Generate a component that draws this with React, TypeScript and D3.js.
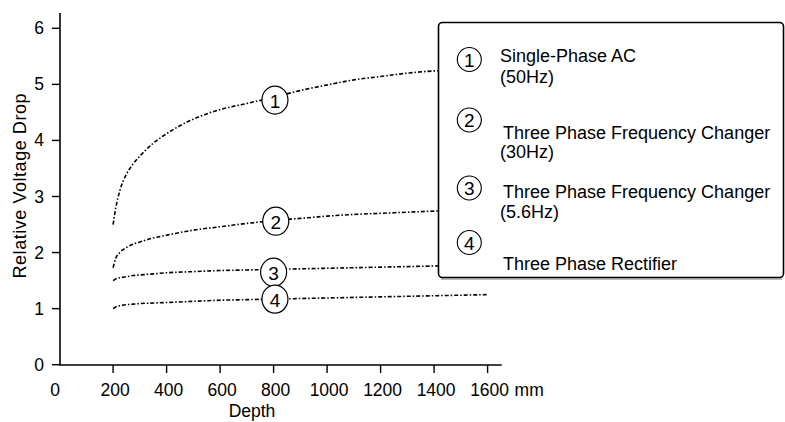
import React from "react";
import * as d3 from "d3";

const depths = [200, 210, 225, 250, 275, 300, 350, 400, 500, 600, 700, 800, 900, 1000, 1100, 1200, 1300, 1400, 1500, 1600];
const singlePhaseAC = [2.5, 2.8, 3.1, 3.4, 3.58, 3.72, 3.95, 4.12, 4.38, 4.55, 4.66, 4.77, 4.89, 4.99, 5.08, 5.14, 5.2, 5.24, 5.27, 5.3];
const freqChanger30 = [1.73, 1.9, 2.0, 2.09, 2.15, 2.19, 2.26, 2.31, 2.4, 2.46, 2.52, 2.57, 2.61, 2.65, 2.68, 2.7, 2.72, 2.74, 2.76, 2.77];
const freqChanger56 = [1.5, 1.53, 1.55, 1.57, 1.59, 1.6, 1.62, 1.64, 1.66, 1.68, 1.69, 1.7, 1.71, 1.72, 1.73, 1.74, 1.75, 1.76, 1.77, 1.78];
const rectifier = [1.0, 1.03, 1.05, 1.07, 1.08, 1.09, 1.1, 1.11, 1.13, 1.15, 1.16, 1.17, 1.18, 1.19, 1.2, 1.21, 1.22, 1.23, 1.24, 1.25];

const seriesNumbers = ["1", "2", "3", "4"];
const labelDepths = [805, 808, 800, 805];
const labelValues = [4.72, 2.56, 1.65, 1.17];

const xTicks = [0, 200, 400, 600, 800, 1000, 1200, 1400, 1600];
const yTicks = [0, 1, 2, 3, 4, 5, 6];
const xUnit = "mm";
const xTitle = "Depth";
const yTitle = "Relative Voltage Drop";

const legendText = [
  ["Single-Phase AC", "(50Hz)"],
  ["Three Phase Frequency Changer", "(30Hz)"],
  ["Three Phase Frequency Changer", "(5.6Hz)"],
  ["", "Three Phase Rectifier"],
];

const FONT = "'Liberation Sans', Arial, Helvetica, sans-serif";

export default function App() {
  const W = 785;
  const H = 422;
  const x = d3.scaleLinear().domain([0, 1600]).range([59.6, 487.6]);
  const y = d3.scaleLinear().domain([0, 6]).range([364.7, 28.3]);
  const allSeries = [singlePhaseAC, freqChanger30, freqChanger56, rectifier];
  const line = d3
    .line<number>()
    .x((_, i) => x(depths[i]))
    .y((d) => y(d))
    .curve(d3.curveMonotoneX);

  const legendCircleY = [59.5, 120, 188, 242.5];
  const legendBaselines = [
    [61.5, 82.5],
    [139, 158],
    [197.5, 217.5],
    [0, 269.5],
  ];
  const legendX = [500, 503, 503, 503];

  return (
    <svg
      width={W}
      height={H}
      style={{ position: "absolute", left: 0, top: 0, background: "#fff" }}
      fontFamily={FONT}
    >
      <rect x={0} y={0} width={W} height={H} fill="#fff" />
      {allSeries.map((s, i) => (
        <path
          key={i}
          d={line(s) || ""}
          fill="none"
          stroke="#000"
          strokeWidth={1.6}
          strokeDasharray="4 2 1.5 2"
        />
      ))}
      {allSeries.map((_, i) => (
        <g key={"lab" + i} transform={`translate(${x(labelDepths[i])},${y(labelValues[i])})`}>
          <ellipse rx={13} ry={14} fill="#fff" stroke="#000" strokeWidth={1.2} />
          <text textAnchor="middle" y={7.5} fontSize={19} fill="#000">
            {seriesNumbers[i]}
          </text>
        </g>
      ))}
      <line x1={60} y1={13} x2={60} y2={365} stroke="#000" strokeWidth={1.6} />
      <line x1={59.2} y1={365} x2={501.7} y2={365} stroke="#000" strokeWidth={1.6} />
      {yTicks.map((t) => (
        <g key={"y" + t}>
          <line x1={52} x2={60} y1={y(t)} y2={y(t)} stroke="#000" strokeWidth={1.4} />
          <text x={44} y={y(t) + 6} textAnchor="end" fontSize={17.5} fill="#000">
            {t}
          </text>
        </g>
      ))}
      {xTicks.map((t) => (
        <g key={"x" + t}>
          {t > 0 && (
            <line x1={x(t)} x2={x(t)} y1={365} y2={373} stroke="#000" strokeWidth={1.4} />
          )}
          <text
            x={t === 0 ? x(t) - 4.5 : x(t) + 2}
            y={396}
            textAnchor="middle"
            fontSize={17.5}
            fill="#000"
          >
            {t}
          </text>
        </g>
      ))}
      <text x={x(1600) + 27} y={396} fontSize={17.5} fill="#000">
        {xUnit}
      </text>
      <text x={252} y={417} textAnchor="middle" fontSize={17.5} fill="#000">
        {xTitle}
      </text>
      <text
        transform="translate(26,186) rotate(-90)"
        textAnchor="middle"
        fontSize={18}
        fill="#000"
        textLength={185}
        lengthAdjust="spacing"
      >
        {yTitle}
      </text>
      <rect x={438.5} y={22.5} width={345} height={255} rx={4} ry={4} fill="#fff" stroke="#000" strokeWidth={1.6} />
      <line x1={441} x2={782} y1={279} y2={279} stroke="#777" strokeWidth={1} />
      {legendText.map((lines, i) => (
        <g key={"leg" + i}>
          <circle cx={469.3} cy={legendCircleY[i]} r={12} fill="#fff" stroke="#000" strokeWidth={1.1} />
          <text x={469.3} y={legendCircleY[i] + 7} textAnchor="middle" fontSize={19} fill="#000">
            {seriesNumbers[i]}
          </text>
          {lines.map((ln, j) =>
            ln ? (
              <text key={j} x={j === 1 && i !== 3 ? 500 : legendX[i]} y={legendBaselines[i][j]} fontSize={18} fill="#000">
                {ln}
              </text>
            ) : null
          )}
        </g>
      ))}
    </svg>
  );
}
